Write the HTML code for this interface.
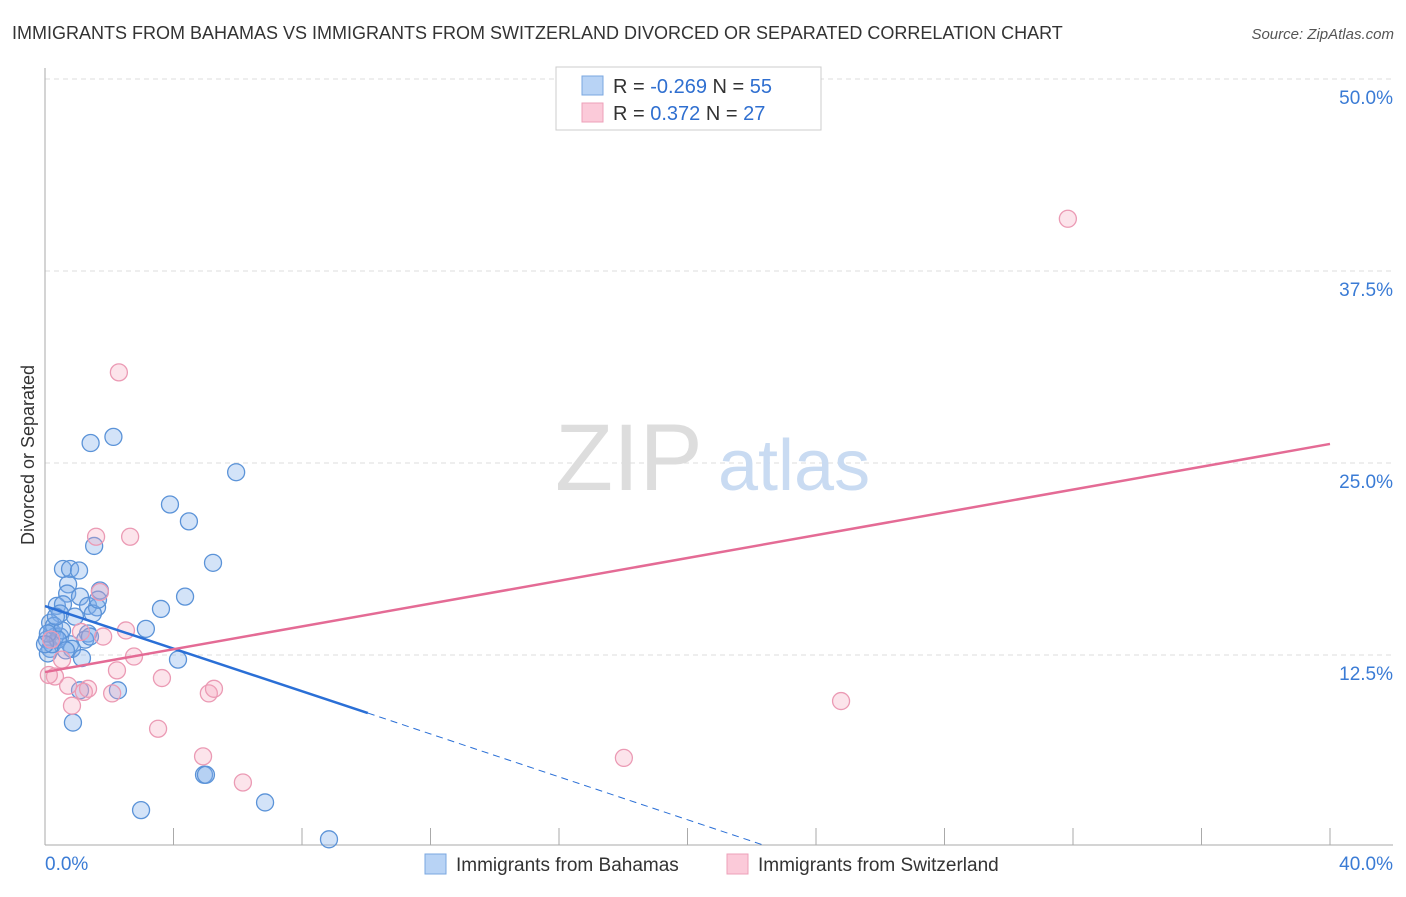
<!DOCTYPE html>
<html><head><meta charset="utf-8"><style>
body{margin:0;background:#fff;font-family:"Liberation Sans",sans-serif}
svg text{font-family:"Liberation Sans",sans-serif}
</style></head><body>
<svg width="1406" height="892">
<text x="12" y="39" font-size="18" fill="#333">IMMIGRANTS FROM BAHAMAS VS IMMIGRANTS FROM SWITZERLAND DIVORCED OR SEPARATED CORRELATION CHART</text>
<text x="1394" y="39" font-size="15" fill="#555" font-style="italic" text-anchor="end">Source: ZipAtlas.com</text>
<g id="grid"></g>
<text x="555" y="490" font-size="95" fill="#ddd" font-family="Liberation Serif">ZIP</text>
<text x="718" y="490" font-size="72" fill="#c9dbf2">atlas</text>
<text x="34" y="455" font-size="18" fill="#333" text-anchor="middle" transform="rotate(-90 34 455)">Divorced or Separated</text>
<g id="pts"></g>
<g id="lines"></g>
<rect x="556" y="67" width="265" height="63" fill="#fff" stroke="#ccc"/>
<rect x="582" y="76" width="21" height="19" fill="#b8d3f5" stroke="#7aa7e0"/>
<rect x="582" y="103" width="21" height="19" fill="#fbcad9" stroke="#eea0b9"/>
<text x="613" y="93" font-size="20" fill="#333">R = <tspan fill="#2f6fd0">-0.269</tspan>   N = <tspan fill="#2f6fd0">55</tspan></text>
<text x="613" y="120" font-size="20" fill="#333">R =  <tspan fill="#2f6fd0"> 0.372</tspan>   N = <tspan fill="#2f6fd0">27</tspan></text>
<rect x="425" y="854" width="21" height="20" fill="#b8d3f5" stroke="#7aa7e0"/>
<text x="456" y="871" font-size="19" fill="#333">Immigrants from Bahamas</text>
<rect x="727" y="854" width="21" height="20" fill="#fbcad9" stroke="#eea0b9"/>
<text x="758" y="871" font-size="19" fill="#333">Immigrants from Switzerland</text>
<text x="45" y="870" font-size="19" fill="#3a7bd5">0.0%</text>
<text x="1393" y="870" font-size="19" fill="#3a7bd5" text-anchor="end">40.0%</text>
</svg>
<script>
const yTicks=[50,37.5,25,12.5];
const yTickLabels=["50.0%","37.5%","25.0%","12.5%"];
const xTicks=[0,4,8,12,16,20,24,28,32,36,40];
const bahamasX=[1.42,2.13,5.95,3.89,4.48,1.53,5.23,0.56,0.78,1.06,0.72,1.71,0.69,1.09,0.37,0.56,1.34,1.62,3.61,4.36,1.49,0.47,0.93,0.16,3.14,0.22,1.34,0.31,1.25,0.06,0.47,0.78,0.16,0.84,1.15,4.14,0.09,2.27,1.09,0.87,4.95,5.01,2.99,6.85,8.84,0.28,0.53,0.22,0.40,1.40,0.09,0.65,1.65,0.0,0.34];
const bahamasY=[26.3,26.7,24.4,22.3,21.2,19.6,18.5,18.1,18.1,18.0,17.1,16.7,16.5,16.3,15.7,15.8,15.7,15.6,15.5,16.3,15.2,15.2,15.0,14.6,14.2,14.0,13.9,13.7,13.5,13.5,13.7,13.2,12.9,12.9,12.3,12.2,12.6,10.2,10.2,8.1,4.7,4.7,2.4,2.9,0.5,14.4,14.1,13.2,13.5,13.7,13.9,12.8,16.1,13.2,15.0];
const swissX=[31.84,2.30,1.59,2.65,1.71,1.12,2.52,1.81,0.19,0.53,2.77,2.24,3.64,0.31,0.12,0.72,1.21,1.34,2.09,5.10,5.26,0.84,3.52,4.92,6.16,18.02,24.78];
const swissY=[40.9,30.9,20.2,20.2,16.6,14.0,14.1,13.7,13.5,12.2,12.4,11.5,11.0,11.1,11.2,10.5,10.1,10.3,10.0,10.0,10.3,9.2,7.7,5.9,4.2,5.8,9.5];
const bahamasFit=[[0,15.69],[10.05,8.72],[22.4,0.1]];
const swissFit=[[0,11.39],[40,26.24]];
const X=v=>45+v*32.125, Y=v=>847-v*15.36;
const NS="http://www.w3.org/2000/svg";
function mk(t,a,p){const e=document.createElementNS(NS,t);for(const k in a)e.setAttribute(k,a[k]);p.appendChild(e);return e;}
const grid=document.getElementById('grid');
yTicks.forEach((t,i)=>{
 const l=mk('line',{x1:45,x2:1393,y1:Y(t),y2:Y(t),stroke:'#ddd','stroke-dasharray':'5,4'},grid);
 
 
 const tx=mk('text',{x:1393,y:Y(t)+25,'font-size':19,fill:'#3a7bd5','text-anchor':'end'},grid);
 tx.textContent=yTickLabels[i];
 
 
});
const ax=mk('line',{x1:45,x2:1393,y1:845,y2:845,stroke:'#aaa'},grid);


const ay=mk('line',{x1:45,x2:45,y1:68,y2:845,stroke:'#aaa'},grid);


xTicks.forEach(t=>{
 const l=mk('line',{x1:X(t),x2:X(t),y1:828,y2:845,stroke:'#aaa'},grid);
 
 
});
const pts=document.getElementById('pts');
bahamasX.forEach((x,i)=>{
 const c=mk('circle',{cx:X(x),cy:Y(bahamasY[i]),r:8.5,fill:'rgba(130,175,235,0.35)',stroke:'#5b93d8','stroke-width':1.3},pts);
 
 
});
swissX.forEach((x,i)=>{
 const c=mk('circle',{cx:X(x),cy:Y(swissY[i]),r:8.5,fill:'rgba(245,165,190,0.3)',stroke:'#eb9ab4','stroke-width':1.3},pts);
 
 
});
const lines=document.getElementById('lines');
const b1=mk('line',{x1:X(bahamasFit[0][0]),y1:Y(bahamasFit[0][1]),x2:X(bahamasFit[1][0]),y2:Y(bahamasFit[1][1]),stroke:'#2a6fd6','stroke-width':2.5},lines);


const b2=mk('line',{x1:X(bahamasFit[1][0]),y1:Y(bahamasFit[1][1]),x2:X(bahamasFit[2][0]),y2:Y(bahamasFit[2][1]),stroke:'#2a6fd6','stroke-width':1,'stroke-dasharray':'7,5'},lines);


const s1=mk('line',{x1:X(swissFit[0][0]),y1:Y(swissFit[0][1]),x2:X(swissFit[1][0]),y2:Y(swissFit[1][1]),stroke:'#e46b95','stroke-width':2.5},lines);


</script>
</body></html>
